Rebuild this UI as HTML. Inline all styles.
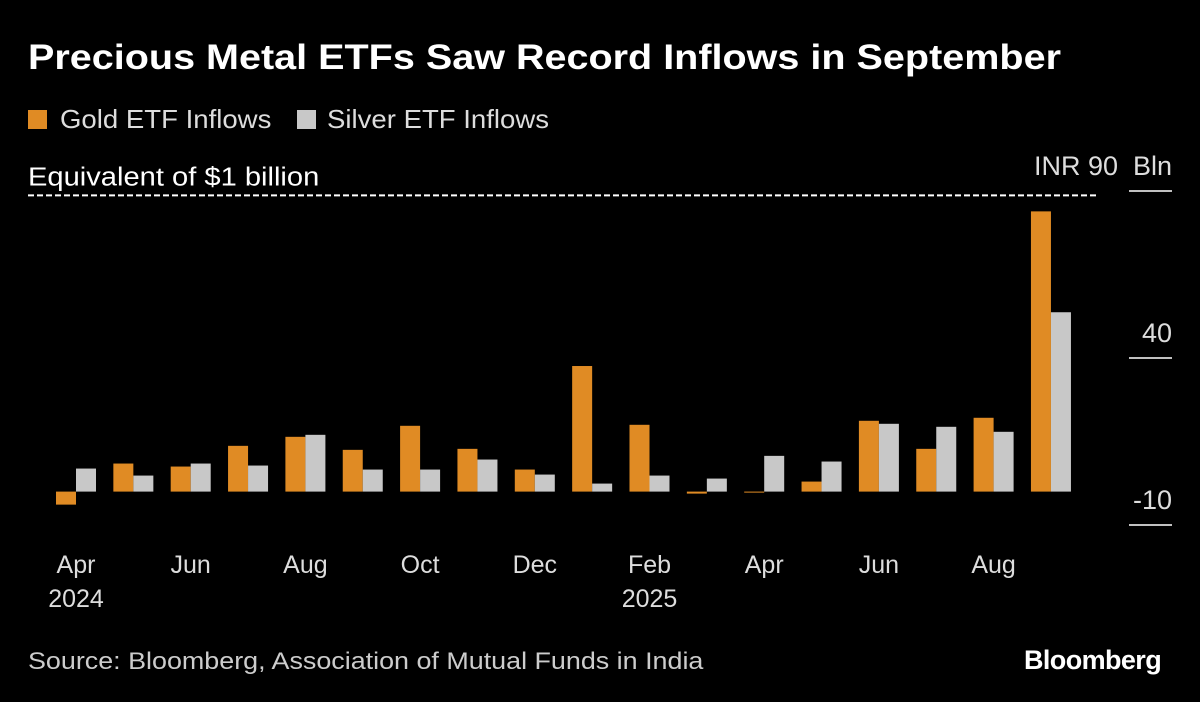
<!DOCTYPE html>
<html><head><meta charset="utf-8">
<style>
html,body{margin:0;padding:0;background:#000;}
body{width:1200px;height:702px;overflow:hidden;position:relative;font-family:"Liberation Sans",sans-serif;color:#fff;}
.t{position:absolute;white-space:nowrap;}
.s{display:inline-block;transform-origin:left;}
</style></head>
<body>
<div class="t" style="left:28px;top:38px;font-size:35px;font-weight:bold;"><span class="s" style="transform:scaleX(1.13)">Precious Metal ETFs Saw Record Inflows in September</span></div>
<div class="t" style="left:28px;top:104px;font-size:26px;color:#ddd;"><span style="display:inline-block;width:19px;height:19px;background:#e08b24;vertical-align:-1px;margin-right:13px"></span><span class="s" style="transform:scaleX(1.06)">Gold ETF Inflows</span></div>
<div class="t" style="left:297px;top:104px;font-size:26px;color:#ddd;"><span style="display:inline-block;width:19px;height:19px;background:#c8c8c8;vertical-align:-1px;margin-right:11px"></span><span class="s" style="transform:scaleX(1.06)">Silver ETF Inflows</span></div>
<div class="t" style="left:28px;top:648px;font-size:24px;color:#ccc;"><span class="s" style="transform:scaleX(1.12)">Source: Bloomberg, Association of Mutual Funds in India</span></div>
<div class="t" style="left:1024px;top:645px;font-size:27px;font-weight:bold;letter-spacing:-0.6px;">Bloomberg</div>
<svg id="chart" width="1200" height="702" style="position:absolute;left:0;top:0" font-family="Liberation Sans, sans-serif"></svg>
<script>
const months=["Apr","May","Jun","Jul","Aug","Sep","Oct","Nov","Dec","Jan","Feb","Mar","Apr","May","Jun","Jul","Aug","Sep"];
const gold=[-3.9,8.4,7.5,13.7,16.4,12.5,19.7,12.8,6.6,37.6,20,-0.6,-0.3,3,21.2,12.8,22.1,83.9];
const silver=[6.9,4.8,8.4,7.8,17,6.6,6.6,9.6,5.1,2.4,4.8,3.9,10.7,9,20.3,19.4,17.9,53.7];
const yTicks=[-10,40,90];
const yTickLabels=["-10","40","INR 90  Bln"];
const xLabelIdx=[0,2,4,6,8,10,12,14,16];
const xYearLabels={0:"2024",10:"2025"};
const refValue=89;
const refLabel="Equivalent of $1 billion";

const svg=document.getElementById('chart');
const NS='http://www.w3.org/2000/svg';
const y=v=>491.6-v*3.34;
const xc=i=>76+i*57.35;
function mk(tag,attrs){const e=document.createElementNS(NS,tag);for(const k in attrs)e.setAttribute(k,attrs[k]);svg.appendChild(e);return e;}

gold.forEach((v,i)=>{
  const r=mk('rect',{x:xc(i)-20,y:Math.min(y(v),y(0)),width:20,height:Math.abs(y(v)-y(0)),fill:'#e08b24'});
  
  
});
silver.forEach((v,i)=>{
  const r=mk('rect',{x:xc(i),y:Math.min(y(v),y(0)),width:20,height:Math.abs(y(v)-y(0)),fill:'#c8c8c8'});
  
  
});
yTicks.forEach((t,k)=>{
  const l=mk('line',{x1:1129,x2:1172,y1:y(t),y2:y(t),stroke:'#fff','stroke-width':1.5});
  
  
  const tx=mk('text',{x:1172,y:y(t)-16,fill:'#ddd','font-size':27,'text-anchor':'end'});
  tx.setAttribute('xml:space','preserve');
  tx.style.whiteSpace='pre';
  tx.textContent=yTickLabels[k];
  
  
});
const ref=mk('line',{x1:28,x2:1098,y1:y(refValue)+1,y2:y(refValue)+1,stroke:'#fff','stroke-width':2,'stroke-dasharray':'6,3'});


const rt=mk('text',{x:28,y:y(refValue)-9,fill:'#fff','font-size':26,transform:'translate(28,0) scale(1.12,1) translate(-28,0)'});
rt.textContent=refLabel;


xLabelIdx.forEach(i=>{
  const t=mk('text',{x:xc(i),y:573,fill:'#ddd','font-size':25,'text-anchor':'middle'});
  t.textContent=months[i];
  
  
  if(xYearLabels[i]){
    const yt=mk('text',{x:xc(i),y:607,fill:'#ddd','font-size':25,'text-anchor':'middle'});
    yt.textContent=xYearLabels[i];
    
    
  }
});
</script>
</body></html>
